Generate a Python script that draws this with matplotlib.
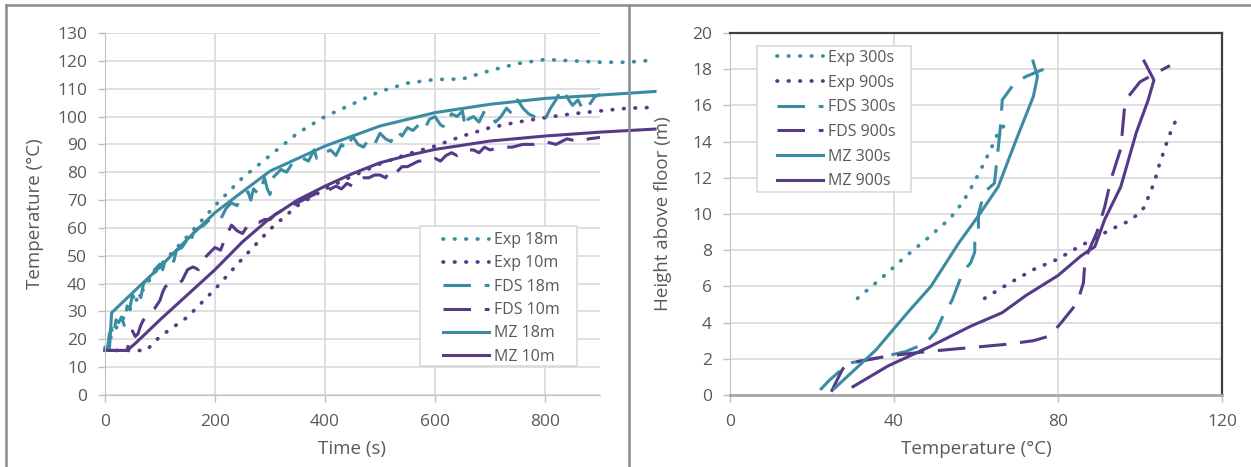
import matplotlib
matplotlib.use("Agg")
import matplotlib.pyplot as plt
from matplotlib.lines import Line2D
from matplotlib.patches import Rectangle

plt.rcParams['font.family'] = ['Open Sans', 'DejaVu Sans']

teal = '#3b8ca3'
purple = '#553a87'
txt = '#595959'

# left panel: temperature vs time
exp18_t = [0, 20, 50, 80, 100, 150, 200, 250, 300, 350, 400, 450, 500, 550, 600, 650, 700, 750, 800, 850, 900, 950, 1000]
exp18_T = [17, 24, 32, 41, 46.5, 57, 68, 78, 86, 94, 100, 104.5, 109, 112, 113.3, 113.5, 116.5, 119, 120.5, 120, 119.5, 119.5, 120.3]

exp10_t = [0, 50, 75, 100, 150, 200, 250, 300, 350, 400, 450, 500, 550, 600, 650, 700, 750, 800, 850, 900, 950, 1000]
exp10_T = [16, 16, 16, 21, 28, 38, 49, 59.5, 68, 74, 78.6, 83, 86.5, 89.4, 93, 96, 98, 99.6, 101, 102, 103, 103.3]

fds18_t = [0, 5, 8, 12, 15, 20, 25, 30, 35, 40, 45, 50, 55, 60, 65, 70, 80, 85, 90, 100,
           105, 110, 120, 125, 130, 140, 150, 155, 160, 170, 180, 190, 200, 210, 220, 230, 240, 250, 260, 265,
           270, 280, 290, 295, 300, 305, 320, 330, 340, 350, 360, 370, 380, 385, 390, 400, 410, 420, 430, 440,
           450, 460, 470, 480, 490, 500, 510, 520, 530, 540, 550, 560, 570, 580, 590, 600, 610, 620, 630, 640,
           650, 655, 660, 670, 680, 690, 700, 710, 720, 730, 740, 750, 760, 770, 780, 790, 800, 810, 820, 830,
           840, 850, 860, 870, 880, 890, 900]
fds18_T = [16, 17, 22, 24, 21, 27, 26, 28, 25, 32, 31, 36, 34, 37, 35, 40, 42, 40, 45, 47,
           45, 49, 50, 48, 52, 53, 56, 54, 58, 60, 61, 63, 64, 63, 67, 69, 68, 72, 73, 70,
           74, 72, 78, 74, 72, 78, 81, 80, 83, 83, 85, 84, 88, 85, 87, 87, 88, 86, 90, 88,
           93, 90, 89, 92, 90, 94, 92, 91, 95, 93, 96, 95, 97, 95, 99, 100, 97, 96, 101, 100,
           102, 96, 99, 100, 98, 102, 101, 98, 100, 103, 101, 106, 103, 101, 100, 98, 99, 103, 106, 110,
           107, 104, 106, 102, 104, 107, 108]

fds10_t = [0, 40, 45, 50, 55, 60, 65, 70, 80, 90, 100, 105, 110, 120, 130, 140, 150, 160, 170, 180,
           190, 200, 210, 220, 230, 240, 250, 260, 270, 280, 290, 300, 310, 320, 330, 340, 350, 360, 370, 380,
           390, 400, 410, 420, 430, 440, 450, 460, 470, 480, 490, 500, 510, 520, 530, 540, 550, 560, 570, 580,
           590, 600, 610, 620, 630, 640, 650, 660, 670, 680, 690, 700, 720, 740, 760, 780, 800, 820, 840, 860,
           880, 900]
fds10_T = [16, 16, 20, 23, 21, 22, 25, 27, 29, 31, 34, 37, 39, 40, 40, 41, 45, 46, 45, 49,
           51, 53, 52, 57, 61, 59, 58, 61, 62, 62, 63, 63, 65, 66, 68, 68, 69, 70, 71, 72,
           73, 72, 74, 75, 74, 76, 75, 77, 78, 78, 79, 79, 78, 81, 80, 82, 82, 83, 84, 84,
           85, 85, 84, 86, 87, 86, 87, 88, 88, 87, 89, 88, 89, 89, 90, 90, 91, 90, 92, 91,
           92, 92.5]

mz18_t = [0, 8, 12, 50, 100, 150, 200, 250, 300, 400, 500, 600, 700, 800, 900, 1000]
mz18_T = [16, 16, 29.5, 36.7, 46, 56, 65.5, 73, 80.4, 89.4, 96.6, 101.4, 104.4, 106.5, 107.7, 109]

mz10_t = [0, 40, 55, 100, 150, 200, 250, 300, 350, 400, 450, 500, 550, 600, 700, 800, 900, 1000]
mz10_T = [16, 16, 18.5, 27, 36, 45, 55, 63.5, 70, 75, 79.5, 83.4, 86, 88.2, 91.2, 93, 94.4, 95.5]

# right panel: height vs temperature
exp300_T = [31.1, 36.9, 42.3, 48.1, 53.7, 56.8, 59.3, 61.6, 63.7, 65.6, 67.9]
exp300_h = [5.34, 6.45, 7.55, 8.64, 9.76, 10.66, 11.64, 12.65, 13.63, 14.59, 15.1]

exp900_T = [62.1, 68.3, 74.1, 79.9, 84.7, 88.5, 92.9, 97.2, 99.6, 101.3, 101.8, 102.8, 103.7, 104.4, 105.1, 105.9, 106.6, 107.6, 108.6]
exp900_h = [5.34, 6.2, 6.94, 7.5, 8.14, 8.6, 9.15, 9.6, 10.0, 10.44, 10.8, 11.36, 11.9, 12.5, 13.0, 13.5, 14.0, 14.6, 15.1]

fds300_T = [22.0, 24.3, 27.1, 29.2, 35.6, 42.9, 47.8, 50.2, 51.8, 54.2, 56.8, 58.7, 59.7, 59.7, 60.6, 60.6, 62, 64.5, 65.4, 66, 66.4, 69.3, 72.2, 76.5]
fds300_h = [0.28, 0.83, 1.38, 1.77, 2.03, 2.4, 2.87, 3.5, 4.3, 5.25, 6.8, 7.3, 7.9, 8.6, 9.15, 10, 11.2, 11.7, 13.6, 14.9, 16.3, 17.2, 17.6, 18]

fds900_T = [24.7, 26.5, 27.5, 29.3, 38.5, 48, 57.7, 67.4, 74, 78, 80.8, 84.7, 86.2, 86.6, 89.5, 91.4, 92.9, 95.3, 96.2, 97.2, 100, 104, 107.3]
fds900_h = [0.18, 1.0, 1.45, 1.77, 2.15, 2.4, 2.6, 2.8, 3.0, 3.26, 4, 5.1, 6.2, 7.5, 9, 10.4, 11.9, 13.6, 15.8, 16.5, 17.3, 17.8, 18.2]

mz300_T = [25.5, 35.6, 43.5, 49, 55.8, 60.6, 65.4, 69.8, 74, 75, 73.9]
mz300_h = [0.37, 2.49, 4.6, 6.0, 8.4, 9.9, 11.5, 14.1, 16.5, 17.6, 18.45]

mz900_T = [30, 38.5, 49, 58.7, 66.4, 72.2, 80, 85.7, 89, 91.4, 95.3, 99.1, 102, 103.4, 101]
mz900_h = [0.46, 1.6, 2.7, 3.8, 4.55, 5.5, 6.6, 7.7, 8.2, 9.7, 11.5, 14.5, 16.3, 17.4, 18.45]

fig = plt.figure(figsize=(12.51, 4.67), dpi=100)
ax1 = fig.add_axes([105/1251, 72/467, 495/1251, 362/467])
ax2 = fig.add_axes([730/1251, 72/467, 492/1251, 362/467])

dot = dict(lw=2.7, dashes=(0.15, 2.9), dash_capstyle='round')
dash = dict(lw=2.2, dashes=(9, 4.5))
solid = dict(lw=2.2)

ax1.plot(exp18_t, exp18_T, color=teal, label='Exp 18m', clip_on=False, **dot)
ax1.plot(exp10_t, exp10_T, color=purple, label='Exp 10m', clip_on=False, **dot)
ax1.plot(fds18_t, fds18_T, color=teal, label='FDS 18m', **dash)
ax1.plot(fds10_t, fds10_T, color=purple, label='FDS 10m', **dash)
ax1.plot(mz18_t, mz18_T, color=teal, label='MZ 18m', clip_on=False, **solid)
ax1.plot(mz10_t, mz10_T, color=purple, label='MZ 10m', clip_on=False, **solid)

ax2.plot(exp300_T, exp300_h, color=teal, label='Exp 300s', **dot)
ax2.plot(exp900_T, exp900_h, color=purple, label='Exp 900s', **dot)
ax2.plot(fds300_T, fds300_h, color=teal, label='FDS 300s', **dash)
ax2.plot(fds900_T, fds900_h, color=purple, label='FDS 900s', **dash)
ax2.plot(mz300_T, mz300_h, color=teal, label='MZ 300s', **solid)
ax2.plot(mz900_T, mz900_h, color=purple, label='MZ 900s', **solid)

ax1.set_xlim(0, 900)
ax1.set_ylim(0, 130)
ax1.set_xticks([0, 200, 400, 600, 800])
ax1.set_yticks(range(0, 131, 10))
ax2.set_xlim(0, 120)
ax2.set_ylim(0, 20)
ax2.set_xticks([0, 40, 80, 120])
ax2.set_yticks(range(0, 21, 2))

for ax in (ax1, ax2):
    ax.grid(True, color='#d9d9d9', lw=1.2)
    ax.set_axisbelow(True)
    ax.tick_params(colors='#bfbfbf', labelcolor=txt, labelsize=12.5, length=5, width=1)
    ax.tick_params(axis='y', pad=8)
    ax.tick_params(axis='x', pad=9)
    ax.spines['left'].set_color('#bfbfbf')
    ax.spines['bottom'].set_color('#bfbfbf')

ax1.spines['top'].set_visible(False)
ax1.spines['right'].set_visible(False)
ax2.spines['bottom'].set_color('#a6a6a6')
ax2.spines['bottom'].set_linewidth(2)
ax2.spines['top'].set_color('#404040')
ax2.spines['right'].set_color('#404040')
ax2.spines['top'].set_linewidth(1.6)
ax2.spines['right'].set_linewidth(1.6)

ax1.set_xlabel('Time (s)', color=txt, fontsize=13.5, labelpad=7)
ax1.set_ylabel('Temperature (°C)', color=txt, fontsize=13.5, labelpad=9)
ax2.set_xlabel('Temperature (°C)', color=txt, fontsize=13.5, labelpad=7)
ax2.set_ylabel('Height above floor (m)', color=txt, fontsize=13.5, labelpad=14)

# legend boxes drawn as plain rectangles, entries placed inside
for ax, box in ((ax1, (0.636, 0.080, 0.317, 0.387)), (ax2, (0.055, 0.561, 0.313, 0.403))):
    ax.add_patch(Rectangle(box[:2], box[2], box[3], transform=ax.transAxes,
                           facecolor='white', edgecolor='#d9d9d9', lw=1.2, zorder=4))

leg_kw = dict(loc='upper left', borderaxespad=0, borderpad=0, frameon=False,
              fontsize=11.5, labelcolor=txt, handlelength=2.9, handletextpad=0.3)
leg1 = ax1.legend(bbox_to_anchor=(0.683, 0.450), labelspacing=0.46, **leg_kw)
leg2 = ax2.legend(bbox_to_anchor=(0.0955, 0.953), labelspacing=0.54, **leg_kw)
leg1.set_zorder(5)
leg2.set_zorder(5)

# outer frame and divider
fr = dict(color='#8c8c8c', lw=1.8, transform=fig.transFigure)
fig.add_artist(Line2D([6/1251, 1], [1 - 5/467, 1 - 5/467], **fr))
fig.add_artist(Line2D([6/1251, 6/1251], [0, 1 - 5/467], **fr))
fig.add_artist(Line2D([629/1251, 629/1251], [0, 1 - 5/467], **fr))

fig.savefig('out.png', dpi=100)
